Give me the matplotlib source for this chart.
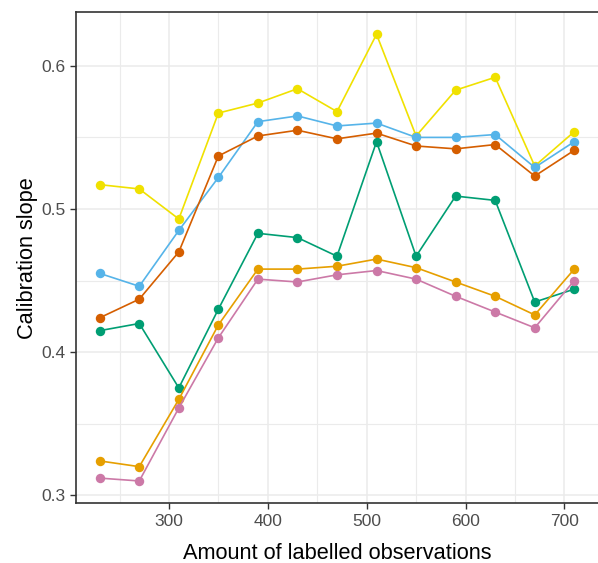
import matplotlib
matplotlib.use("Agg")
import matplotlib.pyplot as plt
from matplotlib.ticker import MultipleLocator

plt.rcParams['font.family'] = ['Liberation Sans', 'DejaVu Sans']

x = [230, 270, 310, 350, 390, 430, 470, 510, 550, 590, 630, 670, 710]

yellow = [0.517, 0.514, 0.493, 0.567, 0.574, 0.584, 0.568, 0.622, 0.551, 0.583, 0.592, 0.530, 0.554]
blue = [0.455, 0.446, 0.485, 0.522, 0.561, 0.565, 0.558, 0.560, 0.550, 0.550, 0.552, 0.529, 0.547]
vermillion = [0.424, 0.437, 0.470, 0.537, 0.551, 0.555, 0.549, 0.553, 0.544, 0.542, 0.545, 0.523, 0.541]
green = [0.415, 0.420, 0.375, 0.430, 0.483, 0.480, 0.467, 0.547, 0.467, 0.509, 0.506, 0.435, 0.444]
orange = [0.324, 0.320, 0.367, 0.419, 0.458, 0.458, 0.460, 0.465, 0.459, 0.449, 0.439, 0.426, 0.458]
pink = [0.312, 0.310, 0.361, 0.410, 0.451, 0.449, 0.454, 0.457, 0.451, 0.439, 0.428, 0.417, 0.450]

series = [
    (yellow, "#F0E100"),
    (blue, "#56B4E9"),
    (vermillion, "#D55E00"),
    (green, "#009E73"),
    (orange, "#E69F00"),
    (pink, "#CC79A7"),
]

fig = plt.figure(figsize=(5.98, 5.63), dpi=100)
ax = fig.add_axes([76 / 598, (563 - 503.3) / 563, 1 - 76 / 598, (503.3 - 12) / 563])

for vals, col in series:
    ax.plot(x, vals, color=col, lw=1.2, marker='o', markersize=6.8,
            markeredgewidth=0, zorder=3)

ax.set_xlim(206, 734)
ax.set_ylim(0.2944, 0.6376)
ax.xaxis.set_major_locator(MultipleLocator(100))
ax.xaxis.set_minor_locator(MultipleLocator(50))
ax.yaxis.set_major_locator(MultipleLocator(0.1))
ax.yaxis.set_minor_locator(MultipleLocator(0.05))

ax.grid(which='major', color='#EBEBEB', lw=1.1, zorder=0)
ax.grid(which='minor', color='#EBEBEB', lw=0.8, zorder=0)
ax.set_axisbelow(True)

for s in ['top', 'left', 'bottom']:
    ax.spines[s].set_color('#333333')
    ax.spines[s].set_linewidth(1.2)
ax.spines['right'].set_visible(False)

ax.tick_params(which='major', length=4.5, width=1.0, color='#333333',
               labelsize=12.5, labelcolor='#4D4D4D', pad=3)
ax.tick_params(which='minor', length=0)

ax.set_xlabel("Amount of labelled observations", fontsize=15.7, color='black', labelpad=10)
ax.set_ylabel("Calibration slope", fontsize=15.7, color='black', labelpad=2.5)

fig.savefig("out.png", dpi=100)
